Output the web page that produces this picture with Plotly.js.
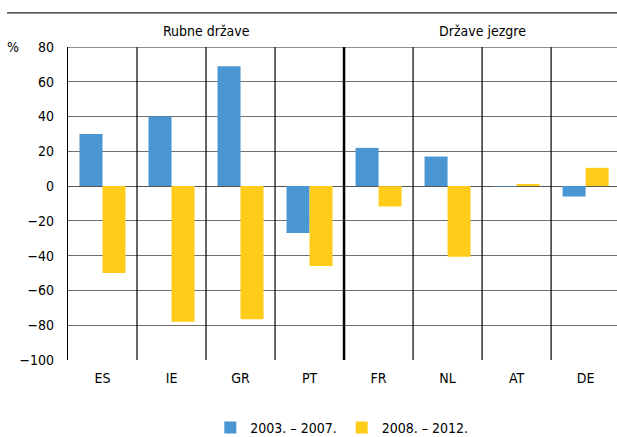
<!DOCTYPE html>
<html><head><meta charset="utf-8">
<script src="https://cdn.plot.ly/plotly-3.0.1.min.js"></script>
<style>html,body{margin:0;padding:0;background:#fff}#c{width:617px;height:437px}</style>
</head><body><div id="c"></div>
<script>
const categories = ['ES','IE','GR','PT','FR','NL','AT','DE'];
const series1Name = '2003. – 2007.';
const series2Name = '2008. – 2012.';
const series1 = [30, 40, 69, -27, 22, 17, -0.3, -6];
const series2 = [-50, -78, -76.5, -46, -11.7, -40.6, 1.2, 10.5];
const groupNames = ['Rubne države', 'Države jezgre'];
const groupSizes = [4, 4];
const yTicks = [-100, -80, -60, -40, -20, 0, 20, 40, 60, 80];

const FONT = '"Liberation Sans Narrow", "DejaVu Sans Condensed", Arial, sans-serif';
const idx = categories.map((_, i) => i);

const traces = [
  {type:'bar', name: series1Name, x: idx, y: series1, marker:{color:'#4A96D3'}},
  {type:'bar', name: series2Name, x: idx, y: series2, marker:{color:'#FFCC1A'}}
];

const shapes = [];
let boundary = 0;
const groupBounds = [];
groupSizes.forEach(s => { boundary += s; groupBounds.push(boundary); });
for (let i = 1; i < categories.length; i++) {
  const thick = groupBounds.slice(0, -1).includes(i);
  shapes.push({type:'line', xref:'x', yref:'y', x0:i-0.5, x1:i-0.5, y0:yTicks[0], y1:yTicks[yTicks.length-1],
    line:{color:'#000', width: thick ? 2.5 : 1.2}});
}
shapes.push({type:'line', xref:'paper', yref:'y', x0:0, x1:1.02, y0:yTicks[yTicks.length-1], y1:yTicks[yTicks.length-1], line:{color:'#222', width:1.2}});
shapes.push({type:'line', xref:'paper', yref:'paper', x0:-0.111, x1:1.02, y0:1.109, y1:1.109, line:{color:'#222', width:1.2}});

const annotations = [];
let start = 0;
groupNames.forEach((g, k) => {
  const center = start + (groupSizes[k] - 1) / 2;
  annotations.push({text:g, xref:'x', yref:'paper', x:center, y:1.05, showarrow:false,
    font:{family:FONT, size:14, color:'#000'}, xanchor:'center', yanchor:'middle'});
  start += groupSizes[k];
});
annotations.push({text:'%', xref:'paper', yref:'y', x:-0.1, y:yTicks[yTicks.length-1], showarrow:false,
  font:{family:FONT, size:14, color:'#000'}, xanchor:'center', yanchor:'middle'});

const layout = {
  width:617, height:437,
  margin:{l:68, r:0, t:47, b:77, autoexpand:false},
  paper_bgcolor:'#fff', plot_bgcolor:'#fff',
  font:{family:FONT, size:14, color:'#000'},
  barmode:'group', bargap:0.333, bargroupgap:0,
  showlegend:true,
  legend:{orientation:'h', xref:'container', yref:'container', x:0.554, xanchor:'center', y:0.021, yanchor:'middle',
    font:{family:FONT, size:14, color:'#000'}, itemwidth:30, tracegroupgap:0},
  xaxis:{range:[-0.5, categories.length - 0.5 - 0.045], tickmode:'array', tickvals:idx, ticktext:categories,
    showgrid:false, zeroline:false, showline:false, ticks:'', ticklabelstandoff:8, fixedrange:true},
  yaxis:{range:[yTicks[0], yTicks[yTicks.length-1]], tickmode:'array', tickvals:yTicks,
    showgrid:true, gridcolor:'#6e6e6e', gridwidth:1, zeroline:true, zerolinecolor:'#555', zerolinewidth:1.2,
    showline:true, linecolor:'#000', linewidth:1.2, ticks:'', ticklabelstandoff:10},
  shapes: shapes,
  annotations: annotations
};
Plotly.newPlot('c', traces, layout, {displayModeBar:false, staticPlot:true});
</script></body></html>
